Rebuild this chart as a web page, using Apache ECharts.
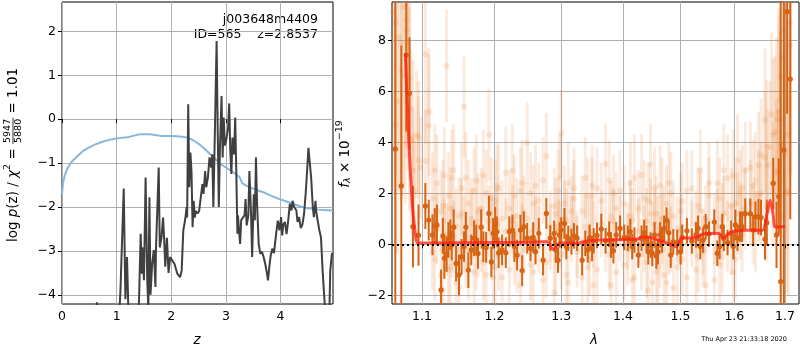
<!DOCTYPE html>
<html>
<head>
<meta charset="utf-8">
<script src="https://cdn.jsdelivr.net/npm/echarts@6/dist/echarts.min.js"></script>
<style>html,body{margin:0;padding:0;background:#fff}#main{width:800px;height:350px}</style>
</head>
<body>
<div id="main"></div>
<script>
// left panel: log p(z)
var zTicks = [0, 1, 2, 3, 4];
var pTicks = [-4, -3, -2, -1, 0, 1, 2];
var zBlue = [0, 0.02, 0.05, 0.1, 0.15, 0.2, 0.3, 0.4, 0.5, 0.6, 0.7, 0.8, 0.9, 1.0, 1.1, 1.2, 1.3, 1.4, 1.5, 1.6,
  1.7, 1.8, 1.9, 2.0, 2.1, 2.2, 2.3, 2.4, 2.5, 2.6, 2.7, 2.8, 2.9, 3.0, 3.1, 3.2, 3.25, 3.3, 3.4, 3.5,
  3.6, 3.7, 3.8, 3.9, 4.0, 4.1, 4.2, 4.3, 4.4, 4.5, 4.6, 4.7, 4.8, 4.96];
var pBlue = [-1.70, -1.45, -1.28, -1.12, -1.02, -0.94, -0.82, -0.71, -0.64, -0.58, -0.53, -0.49, -0.46, -0.44, -0.42, -0.41, -0.38, -0.35, -0.34, -0.34,
  -0.36, -0.38, -0.38, -0.38, -0.39, -0.40, -0.42, -0.48, -0.56, -0.66, -0.78, -0.90, -1.02, -1.10, -1.18, -1.27, -1.32, -1.46, -1.53, -1.58,
  -1.63, -1.67, -1.73, -1.78, -1.83, -1.87, -1.92, -1.96, -2.00, -2.03, -2.04, -2.06, -2.07, -2.08];
var zDark = [0.00, 0.55, 0.62, 0.64, 0.66, 0.75, 1.00, 1.05, 1.07, 1.09, 1.13, 1.16, 1.19, 1.22, 1.30, 1.40, 1.44, 1.46, 1.47, 1.50,
  1.53, 1.56, 1.58, 1.60, 1.62, 1.65, 1.68, 1.71, 1.72, 1.75, 1.77, 1.79, 1.82, 1.85, 1.87, 1.89, 1.92, 1.95, 1.98, 2.01,
  2.03, 2.06, 2.11, 2.16, 2.19, 2.22, 2.24, 2.26, 2.28, 2.29, 2.31, 2.33, 2.35, 2.37, 2.39, 2.41, 2.43, 2.45, 2.48, 2.51,
  2.54, 2.57, 2.59, 2.62, 2.64, 2.67, 2.70, 2.73, 2.75, 2.77, 2.79, 2.83, 2.85, 2.87, 2.89, 2.92, 2.94, 2.96, 2.98, 3.01,
  3.04, 3.06, 3.08, 3.10, 3.12, 3.15, 3.17, 3.19, 3.21, 3.22, 3.24, 3.26, 3.28, 3.31, 3.34, 3.36, 3.38, 3.41, 3.43, 3.46,
  3.48, 3.51, 3.53, 3.55, 3.57, 3.60, 3.63, 3.66, 3.69, 3.72, 3.75, 3.77, 3.80, 3.82, 3.85, 3.88, 3.92, 3.95, 3.98, 4.01,
  4.03, 4.05, 4.08, 4.11, 4.14, 4.17, 4.20, 4.22, 4.25, 4.29, 4.31, 4.34, 4.37, 4.40, 4.43, 4.46, 4.49, 4.51, 4.54, 4.56,
  4.59, 4.61, 4.64, 4.65, 4.68, 4.71, 4.74, 4.77, 4.80, 4.83, 4.87, 4.89, 4.91, 4.94, 4.96];
var pDark = [-8, -6, -4.6, -4.17, -4.6, -6, -5.5, -4.4, -3.90, -3.90, -1.58, -4.10, -3.14, -4.6, -5.5, -4.6, -2.61, -3.52, -2.92, -3.67,
  -1.33, -3.67, -4.30, -1.78, -4.00, -3.29, -2.98, -3.82, -2.95, -2.92, -1.10, -2.92, -2.70, -2.24, -2.75, -3.36, -2.70, -3.50, -3.14, -3.20,
  -3.20, -3.30, -3.52, -3.60, -3.45, -2.54, -2.50, -2.24, -2.00, -2.24, 0.34, -1.55, -0.76, -1.18, -2.46, -1.86, -2.24, -2.09, -2.15, -2.09,
  -1.78, -1.48, -1.70, -1.18, -1.55, -1.33, -0.87, -1.10, -0.80, -2.00, -0.80, 1.78, -0.27, -2.00, -0.68, 0.53, -0.87, 0.04, -0.60, -0.45,
  -0.19, 0.36, -0.72, -1.25, -0.42, -0.80, 0.04, -1.20, -2.61, -2.19, -2.53, -2.84, -2.30, -2.34, -2.19, -1.82, -2.42, -2.20, -1.18, -2.16,
  -3.14, -1.71, -2.30, -0.87, -1.92, -2.84, -3.07, -3.02, -3.14, -3.30, -3.50, -3.67, -3.30, -3.10, -2.95, -3.05, -2.60, -2.31, -2.53, -2.23,
  -2.65, -2.40, -2.34, -2.62, -2.31, -1.93, -2.08, -1.86, -2.00, -2.08, -2.34, -2.23, -2.48, -2.40, -2.16, -1.69, -1.10, -0.65, -0.65, -1.33,
  -2.00, -2.23, -1.86, -2.08, -2.31, -2.53, -2.69, -3.45, -4.05, -4.60, -5.50, -4.60, -3.45, -3.07, -3.05];

// right panel: spectrum
var lamTicks = [1.1, 1.2, 1.3, 1.4, 1.5, 1.6, 1.7];
var fTicks = [-2, 0, 2, 4, 6, 8];
var darkLam = [1.0654, 1.0731, 1.0796, 1.0837, 1.0882, 1.0955, 1.1045, 1.1090, 1.1140, 1.1170,
  1.1200, 1.1255, 1.1280, 1.1300, 1.1330, 1.1355, 1.1380, 1.1400, 1.1427, 1.1460,
  1.1500, 1.1535, 1.1570, 1.1595, 1.1630, 1.1670, 1.1710, 1.1740, 1.1765, 1.1810,
  1.1840, 1.1880, 1.1920, 1.1955, 1.1980, 1.2010, 1.2035, 1.2060, 1.2110, 1.2164,
  1.2215, 1.2260, 1.2290, 1.2330, 1.2380, 1.2405, 1.2430, 1.2480, 1.2530, 1.2570,
  1.2605, 1.2655, 1.2720, 1.2770, 1.2830, 1.2890, 1.2915, 1.2950, 1.2975, 1.3000,
  1.3050, 1.3080, 1.3110, 1.3160, 1.3200, 1.3250, 1.3330, 1.3380, 1.3420, 1.3450,
  1.3490, 1.3516, 1.3570, 1.3640, 1.3710, 1.3770, 1.3800, 1.3840, 1.3886, 1.3950,
  1.4020, 1.4080, 1.4123, 1.4155, 1.4193, 1.4260, 1.4315, 1.4360, 1.4400, 1.4430,
  1.4470, 1.4500, 1.4540, 1.4570, 1.4600, 1.4637, 1.4670, 1.4707, 1.4750, 1.4790,
  1.4825, 1.4870, 1.4940, 1.5000, 1.5030, 1.5115, 1.5205, 1.5280, 1.5319, 1.5360,
  1.5411, 1.5460, 1.5520, 1.5620, 1.5676, 1.5720, 1.5770, 1.5800, 1.5870, 1.5940,
  1.5980, 1.6020, 1.6060, 1.6110, 1.6150, 1.6210, 1.6310, 1.6365, 1.6410, 1.6470,
  1.6520, 1.6599, 1.6635, 1.6763, 1.6830, 1.6875, 1.6915, 1.6980, 1.7046, 1.7110];
var darkVal = [3.74, 2.29, 7.42, 5.92, 0.69, 0.36, 1.50, 0.95, 0.37, 0.72,
  0.76, -1.79, 0.33, -0.55, -0.38, 0.17, 0.37, -0.03, 0.67, -0.75,
  -1.20, -0.49, -0.09, 0.67, -1.01, -0.22, 0.24, 0.17, -0.36, 0.67,
  -0.09, -0.12, 1.21, -0.69, 0.43, 0.76, 0.49, -0.33, -0.22, -0.33,
  0.50, 0.56, -0.09, -0.42, 0.56, -1.03, 0.69, 0.24, -0.16, 0.27,
  -0.29, 0.43, -0.62, 1.21, 0.24, 0.43, -0.22, -0.62, 0.37, 0.56,
  0.82, -0.09, 0.24, 0.10, 0.33, 0.24, -0.62, 0.04, -0.22, 0.27,
  -0.16, 0.14, 0.35, 0.60, 0.14, 0.40, -0.03, -0.25, 0.37, 0.63,
  0.27, 0.24, 0.50, -0.09, 0.17, -0.42, 0.24, 0.46, 0.24, -0.29,
  -0.03, -0.35, 0.37, -0.46, -0.29, 0.37, 0.17, 0.63, 0.95, 0.45,
  -0.42, 0.10, 0.07, -0.29, 0.27, 0.53, 0.13, 0.37, 0.63, -0.09,
  0.17, 0.69, 0.40, 0.87, -0.35, -0.09, 0.69, 0.24, 0.07, 0.43,
  -0.09, 0.76, 0.24, 0.69, 0.69, 1.20, 1.20, 0.56, 1.08, 1.08,
  1.05, 0.20, 0.85, 2.39, 0.37, 1.87, -1.46, 3.70, 9.12, 6.48];
var darkErr = [12, 5.5, 3.0, 2.2, 1.6, 1.2, 0.9, 0.8, 0.8, 0.7,
  0.8, 0.8, 0.7, 0.8, 0.7, 0.7, 0.6, 0.6, 0.7, 0.7,
  0.8, 0.7, 0.6, 0.6, 0.7, 0.6, 0.7, 0.6, 0.6, 0.7,
  0.6, 0.6, 0.7, 0.6, 0.6, 0.7, 0.6, 0.6, 0.6, 0.6,
  0.6, 0.6, 0.6, 0.6, 0.6, 0.6, 0.6, 0.6, 0.5, 0.6,
  0.5, 0.6, 0.6, 0.6, 0.5, 0.5, 0.5, 0.5, 0.5, 0.5,
  0.6, 0.5, 0.5, 0.5, 0.5, 0.5, 0.6, 0.5, 0.5, 0.5,
  0.5, 0.5, 0.5, 0.6, 0.5, 0.5, 0.5, 0.5, 0.5, 0.5,
  0.5, 0.5, 0.5, 0.5, 0.5, 0.5, 0.5, 0.5, 0.5, 0.5,
  0.5, 0.5, 0.5, 0.5, 0.5, 0.5, 0.5, 0.5, 0.5, 0.5,
  0.5, 0.5, 0.5, 0.5, 0.5, 0.5, 0.5, 0.5, 0.5, 0.5,
  0.5, 0.5, 0.5, 0.5, 0.5, 0.5, 0.5, 0.5, 0.5, 0.5,
  0.5, 0.6, 0.5, 0.6, 0.6, 0.6, 0.6, 0.6, 0.6, 0.7,
  0.7, 0.8, 0.9, 1.0, 1.3, 1.5, 12, 9, 4, 5.5];
// individual exposures (faint), sampled at darkLam
var faintA = [8.7, 6.8, 8.4, 5.3, 4.2, 3.3,
  7.45, 5.2, 1.8, -0.6, 2.4, -1.2, 1.5, 0.4, 7.0, 1.9,
  -0.9, 2.6, 0.3, -1.5, 1.1, 2.2, 5.4, -0.2, 1.6, 0.8,
  -1.1, 2.5, 0.1, 1.4, -0.7, 2.0, 4.3, 0.6, -1.3, 1.7,
  2.3, -0.4, 1.0, 2.8, -1.0, 0.9, 1.9, -0.5, 2.1, 0.3,
  1.2, 3.96, -0.8, 1.6, 2.3, 0.2, -1.4, 3.45, 0.7, 1.5,
  -0.6, 2.1, 0.4, 4.35, 1.0, -1.2, 2.4, 0.6, 1.8, -0.3,
  1.3, 2.6, -0.9, 0.5, 1.9, -1.6, 2.2, 0.8, 3.14, -0.4,
  1.1, 2.0, -1.1, 0.6, 1.6, -0.2, 2.4, 0.9, -1.3, 1.4,
  2.72, 0.2, -0.7, 1.7, 3.13, -1.5, 0.8, 1.2, -0.9, 2.3,
  0.5, -1.2, 1.6, 0.1, 2.0, -1.7, 0.6, 1.3, -0.6, 2.1,
  0.4, -1.0, 1.5, 2.9, -0.3, 1.0, 2.4, -1.4, 0.7, 1.8,
  -0.5, 1.2, 2.6, 0.2, -1.1, 1.6, 3.3, 0.9, 2.2, 1.4,
  3.0, 0.8, 2.5, 1.9, 3.5, 4.87, 3.83, 2.4, 4.9, 5.66,
  6.57, 8.4, 4.3, 7.8];
var faintAErr = [6, 5, 5, 4, 3, 2.5,
  3.5, 2.5, 1.8, 1.6, 1.9, 1.5, 1.8, 1.4, 2.2, 1.7,
  1.5, 1.9, 1.4, 1.6, 1.5, 1.8, 2.0, 1.5, 1.7, 1.4,
  1.5, 1.8, 1.4, 1.6, 1.5, 1.7, 1.8, 1.4, 1.5, 1.6,
  1.7, 1.4, 1.5, 1.8, 1.5, 1.4, 1.6, 1.4, 1.7, 1.3,
  1.5, 1.6, 1.4, 1.5, 1.6, 1.3, 1.5, 1.7, 1.4, 1.5,
  1.4, 1.6, 1.3, 1.7, 1.5, 1.4, 1.6, 1.3, 1.5, 1.4,
  1.4, 1.6, 1.4, 1.3, 1.5, 1.4, 1.6, 1.3, 1.6, 1.4,
  1.4, 1.5, 1.4, 1.3, 1.5, 1.4, 1.6, 1.3, 1.4, 1.5,
  1.6, 1.3, 1.4, 1.5, 1.6, 1.4, 1.3, 1.5, 1.4, 1.6,
  1.3, 1.4, 1.5, 1.3, 1.6, 1.4, 1.3, 1.5, 1.4, 1.6,
  1.3, 1.4, 1.5, 1.6, 1.4, 1.3, 1.6, 1.4, 1.5, 1.6,
  1.4, 1.5, 1.7, 1.4, 1.5, 1.6, 1.8, 1.5, 1.7, 1.6,
  1.8, 1.6, 1.9, 1.8, 2.2, 2.8, 2.6, 2.4, 3.2, 3.6,
  4, 5, 4.5, 5];
var faintB = [4.7, 7.9, 8.8, 6.5, 2.9, 4.2,
  3.27, 4.65, -0.3, 2.9, 0.6, 1.3, -1.8, 2.7, 0.2, -1.0,
  1.4, 0.1, 2.9, 0.7, -1.7, 1.2, 0.4, 2.6, -0.8, 1.0,
  2.1, -0.4, 1.3, 0.2, 2.7, -1.2, 0.9, 1.8, 0.3, -0.9,
  0.8, 2.2, -1.3, 0.5, 1.4, 2.9, -0.2, 1.1, -1.6, 2.4,
  0.1, 1.0, 2.0, -1.1, 0.6, 1.7, 2.5, -0.7, 0.3, -1.9,
  1.2, 0.5, 2.6, -0.4, 1.6, 0.9, -1.5, 1.3, 2.2, 0.0,
  -1.3, 0.7, 1.9, -0.6, 2.3, 0.4, -1.0, 1.7, 0.2, 2.5,
  -1.6, 0.9, 1.4, 2.1, -0.8, 0.3, 1.1, -1.4, 2.6, 0.5,
  -0.4, 1.8, 0.9, -1.8, 1.2, 0.4, 2.2, -1.1, 0.6, -0.3,
  1.9, 1.0, -1.5, 2.4, 0.2, 1.1, -0.9, 0.5, 1.7, -1.3,
  2.2, 0.8, -0.5, 1.3, 0.1, -1.6, 1.9, 0.6, 2.4, -0.8,
  1.0, 2.9, 0.3, 1.5, 2.7, -0.6, 1.2, 2.0, 0.4, 2.9,
  1.6, 2.3, 0.5, 3.1, 2.0, 3.4, 1.5, 4.3, 2.8, 5.2,
  3.9, 7.3, 2.1, 8.7];
var faintBErr = [5, 6, 5, 4, 2.5, 2.2,
  2, 2.8, 1.5, 1.8, 1.4, 1.6, 1.5, 1.9, 1.4, 1.5,
  1.6, 1.4, 1.8, 1.5, 1.6, 1.4, 1.5, 1.8, 1.4, 1.6,
  1.7, 1.4, 1.5, 1.3, 1.8, 1.5, 1.4, 1.6, 1.3, 1.5,
  1.4, 1.7, 1.5, 1.3, 1.5, 1.8, 1.4, 1.5, 1.6, 1.7,
  1.3, 1.4, 1.6, 1.5, 1.3, 1.5, 1.7, 1.4, 1.3, 1.6,
  1.4, 1.3, 1.7, 1.4, 1.5, 1.3, 1.5, 1.4, 1.6, 1.3,
  1.5, 1.3, 1.5, 1.4, 1.6, 1.3, 1.5, 1.5, 1.3, 1.6,
  1.5, 1.3, 1.4, 1.6, 1.4, 1.3, 1.4, 1.5, 1.7, 1.3,
  1.4, 1.5, 1.3, 1.6, 1.4, 1.3, 1.6, 1.5, 1.3, 1.4,
  1.5, 1.3, 1.5, 1.6, 1.3, 1.4, 1.5, 1.3, 1.5, 1.6,
  1.5, 1.3, 1.4, 1.5, 1.3, 1.6, 1.5, 1.4, 1.7, 1.5,
  1.4, 1.8, 1.4, 1.5, 1.8, 1.5, 1.6, 1.7, 1.5, 1.9,
  1.7, 1.8, 1.6, 2.1, 2.0, 2.6, 2.2, 3.0, 2.8, 3.8,
  3.6, 5, 4, 6];
var edgeLam = [1.062, 1.068, 1.070, 1.076, 1.078, 1.082, 1.086, 1.090, 1.093, 1.098,
  1.665, 1.670, 1.673, 1.680, 1.686, 1.690, 1.694, 1.700, 1.707];
var edgeVal = [9.1, 5.6, 8.1, 9.3, 6.6, 7.9, 4.1, 2.1, 4.3, 3.0,
  3.1, 3.8, 5.1, 4.4, 2.9, 4.9, 1.1, 3.6, 2.0];
var edgeErr = [7, 6, 6, 7, 5, 5, 3.5, 2, 2.5, 2,
  2.2, 2.6, 3.2, 3, 2.4, 3.5, 3, 3.2, 4];
var modelLam = [1.0783, 1.0824, 1.0869, 1.0912, 1.0942, 1.1200, 1.1800, 1.2400, 1.2700, 1.2790,
  1.2871, 1.2930, 1.2980, 1.3100, 1.3243, 1.3348, 1.3564, 1.3800, 1.4115, 1.4250,
  1.4315, 1.4450, 1.4602, 1.4749, 1.4926, 1.5016, 1.5106, 1.5288, 1.5409, 1.5658,
  1.5730, 1.5783, 1.5878, 1.5973, 1.6231, 1.6551, 1.6640, 1.6704, 1.6760, 1.6791,
  1.6850, 1.7000];
var modelVal = [7.49, 4.35, 1.74, 0.43, 0.05, 0.05, 0.07, 0.08, 0.10, 0.10,
  -0.20, -0.05, 0.05, 0.05, 0.04, 0.10, 0.17, 0.17, 0.20, 0.20,
  0.30, 0.28, 0.17, 0.06, -0.10, 0.25, 0.25, 0.27, 0.40, 0.43,
  0.40, 0.25, 0.40, 0.50, 0.55, 0.55, 1.20, 1.74, 1.20, 0.69,
  0.68, 0.70];

var FONT = 'DejaVu Sans';
var lg = function (v) { return Math.log(v) / Math.LN10; };
var minus = function (v) { return String(v).replace('-', '\u2212'); };
var pairs = function (xs, ys) { return xs.map(function (x, i) { return [x, ys[i]]; }); };
var triples = function (ls, vs, es) { return ls.map(function (l, i) { return [lg(l), vs[i], es[i]]; }); };

var errorBars = function (color, width, radius) {
  return function (params, api) {
    var cs = params.coordSys;
    var x = api.value(0), v = api.value(1), e = api.value(2);
    var c = api.coord([x, v]), lo = api.coord([x, v - e]), hi = api.coord([x, v + e]);
    var top = cs.y, bot = cs.y + cs.height;
    var y1 = Math.max(top, Math.min(bot, hi[1])), y2 = Math.max(top, Math.min(bot, lo[1]));
    var kids = [];
    if (y2 > y1) kids.push({type: 'line', shape: {x1: c[0], y1: y1, x2: c[0], y2: y2}, style: {stroke: color, lineWidth: width}});
    if (c[1] >= top && c[1] <= bot) kids.push({type: 'circle', shape: {cx: c[0], cy: c[1], r: radius}, style: {fill: color}});
    return {type: 'group', children: kids};
  };
};

var axis = function (extra, ticks, fmt) {
  var a = {
    type: 'value',
    axisLine: {show: false},
    axisTick: {show: true, inside: false, length: 4, customValues: ticks, lineStyle: {color: '#000', width: 1}},
    axisLabel: {show: true, customValues: ticks, margin: 6, color: '#000', fontSize: 12.5, fontFamily: FONT, formatter: fmt},
    splitLine: {show: true, lineStyle: {color: '#b0b0b0', width: 1}}
  };
  for (var k in extra) a[k] = extra[k];
  return a;
};

// rotated axis label with pieces (sub/superscripts, fraction)
var ctx = document.createElement('canvas').getContext('2d');
var fontStr = function (size, style) { return (style || 'normal') + ' ' + size + 'px "' + FONT + '"'; };
var tw = function (s, size, style) { ctx.font = fontStr(size, style); return ctx.measureText(s).width; };
var txt = function (t, x, y, size, style, align) {
  return {type: 'text', x: x, y: y, style: {text: t, font: fontStr(size, style), fill: '#000',
    align: align || 'left', verticalAlign: 'middle', textAlign: align || 'left', textVerticalAlign: 'middle'}};
};
var rotLabel = function (cx, cy, parts) {
  var total = 0;
  parts.forEach(function (p) {
    p.w = p.frac ? Math.max(tw(p.frac[0], p.size), tw(p.frac[1], p.size)) + 2 : tw(p.t, p.size, p.style);
    total += p.w;
  });
  var x = -total / 2, kids = [];
  parts.forEach(function (p) {
    if (p.frac) {
      kids.push(txt(p.frac[0], x + p.w / 2, -5.5, p.size, 'normal', 'center'));
      kids.push(txt(p.frac[1], x + p.w / 2, 5.5, p.size, 'normal', 'center'));
      kids.push({type: 'line', shape: {x1: x, y1: 0, x2: x + p.w, y2: 0}, style: {stroke: '#000', lineWidth: 0.8}});
    } else {
      kids.push(txt(p.t, x, p.dy || 0, p.size, p.style));
    }
    x += p.w;
  });
  return {type: 'group', x: cx, y: cy, rotation: Math.PI / 2, children: kids};
};

var chart = echarts.init(document.getElementById('main'));
chart.setOption({
  backgroundColor: '#fff',
  animation: false,
  grid: [
    {left: 62, top: 2, width: 271, height: 302, show: true, borderColor: '#000', borderWidth: 1, backgroundColor: 'transparent', outerBoundsMode: 'none'},
    {left: 392, top: 2, width: 407, height: 302, show: true, borderColor: '#000', borderWidth: 1, backgroundColor: 'transparent', outerBoundsMode: 'none'}
  ],
  xAxis: [
    axis({gridIndex: 0, min: 0, max: 4.96}, zTicks, function (v) { return minus(v); }),
    axis({gridIndex: 1, min: lg(1.0612), max: lg(1.729)}, lamTicks.map(lg), function (v) { return Math.pow(10, v).toFixed(1); })
  ],
  yAxis: [
    axis({gridIndex: 0, min: -4.21, max: 2.67}, pTicks, function (v) { return minus(v); }),
    axis({gridIndex: 1, min: -2.34, max: 9.5}, fTicks, function (v) { return minus(v); })
  ],
  graphic: [
    rotLabel(13, 155, [
      {t: 'log ', size: 13.5}, {t: 'p', size: 13.5, style: 'italic'}, {t: '(z) / ', size: 13.5},
      {t: '\u03c7', size: 13.5, style: 'italic'}, {t: '2', size: 9.5, dy: -5}, {t: ' = ', size: 13.5},
      {frac: ['5947', '5880'], size: 9.5}, {t: ' = 1.01', size: 13.5}
    ]),
    rotLabel(345, 154, [
      {t: 'f', size: 13.5, style: 'italic'}, {t: '\u03bb', size: 9.5, style: 'italic', dy: 3},
      {t: ' \u00d7 10', size: 13.5}, {t: '\u221219', size: 9.5, dy: -5}
    ]),
    txt('z', 197, 340, 13.5, 'italic', 'center'),
    txt('\u03bb', 594, 340, 13.5, 'italic', 'center'),
    txt('j003648m4409', 318, 20, 12.5, 'normal', 'right'),
    txt('ID=565    z=2.8537', 318, 35, 12.5, 'normal', 'right'),
    txt('Thu Apr 23 21:33:18 2020', 787, 339, 6.5, 'normal', 'right')
  ],
  series: [
    {type: 'line', xAxisIndex: 0, yAxisIndex: 0, data: pairs(zBlue, pBlue), showSymbol: false, z: 2,
      lineStyle: {color: '#88b7dc', width: 2}},
    {type: 'line', xAxisIndex: 0, yAxisIndex: 0, data: pairs(zDark, pDark), showSymbol: false, z: 3,
      lineStyle: {color: '#404040', width: 2}},
    {type: 'custom', xAxisIndex: 1, yAxisIndex: 1, data: triples(darkLam, faintA, faintAErr), z: 2,
      renderItem: errorBars('rgba(232,125,45,0.16)', 3, 3), encode: {x: 0, y: 1}},
    {type: 'custom', xAxisIndex: 1, yAxisIndex: 1, data: triples(darkLam, faintB, faintBErr), z: 2,
      renderItem: errorBars('rgba(232,125,45,0.16)', 3, 3), encode: {x: 0, y: 1}},
    {type: 'custom', xAxisIndex: 1, yAxisIndex: 1, data: triples(edgeLam, edgeVal, edgeErr), z: 2,
      renderItem: errorBars('rgba(232,125,45,0.16)', 3, 3), encode: {x: 0, y: 1}},
    {type: 'custom', xAxisIndex: 1, yAxisIndex: 1, data: triples(darkLam, darkVal, darkErr), z: 3,
      renderItem: errorBars('rgb(215,100,20)', 2, 2.6), encode: {x: 0, y: 1}},
    {type: 'line', xAxisIndex: 1, yAxisIndex: 1, data: pairs(modelLam.map(lg), modelVal), showSymbol: false, z: 4,
      smooth: 0.2, lineStyle: {color: 'rgba(255,30,20,0.75)', width: 3}},
    {type: 'line', xAxisIndex: 1, yAxisIndex: 1, data: [], z: 5,
      markLine: {silent: true, symbol: ['none', 'none'], label: {show: false},
        lineStyle: {color: '#000', width: 2, type: [2, 3]}, data: [{yAxis: 0}]}}
  ]
});
</script>
</body>
</html>
